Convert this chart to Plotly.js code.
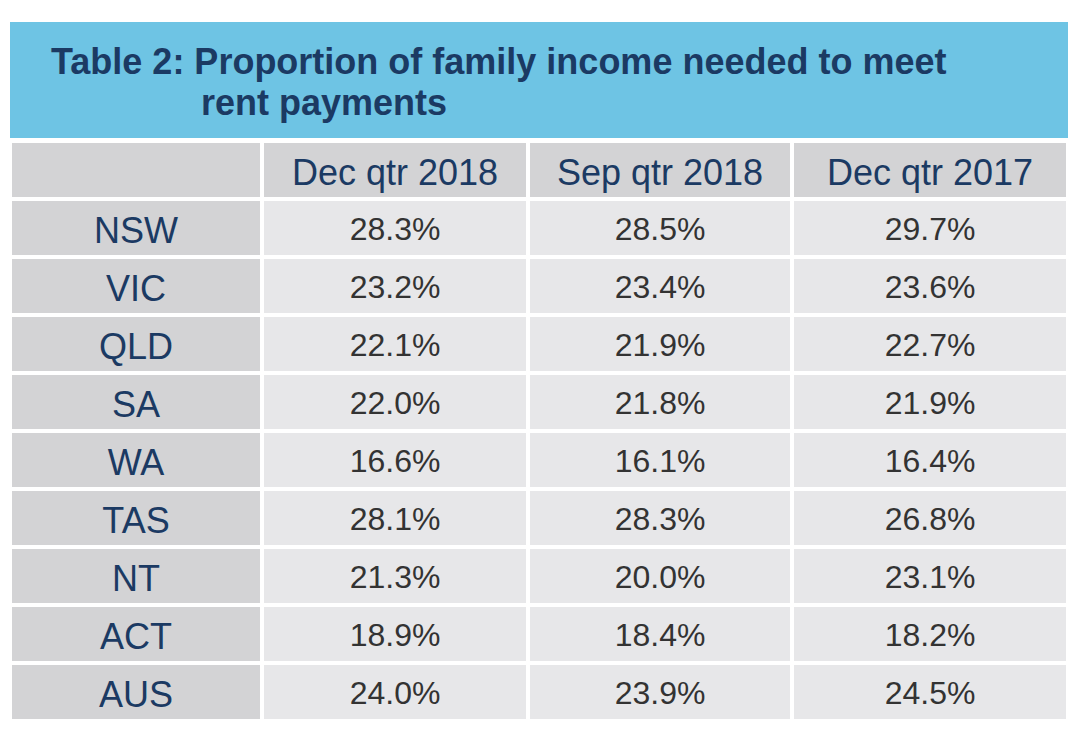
<!DOCTYPE html>
<html>
<head>
<meta charset="utf-8">
<script src="https://cdn.plot.ly/plotly-3.0.1.min.js"></script>
<style>html,body{margin:0;padding:0;background:#fff;}#chart{width:1080px;height:750px;}</style>
</head>
<body>
<div id="chart"></div>
<script>
var titleLine1 = 'Table 2: Proportion of family income needed to meet';
var titleLine2 = 'rent payments';
var headers = ['', 'Dec qtr 2018', 'Sep qtr 2018', 'Dec qtr 2017'];
var regions = ['NSW', 'VIC', 'QLD', 'SA', 'WA', 'TAS', 'NT', 'ACT', 'AUS'];
var decQtr2018 = [28.3, 23.2, 22.1, 22.0, 16.6, 28.1, 21.3, 18.9, 24.0];
var sepQtr2018 = [28.5, 23.4, 21.9, 21.8, 16.1, 28.3, 20.0, 18.4, 23.9];
var decQtr2017 = [29.7, 23.6, 22.7, 21.9, 16.4, 26.8, 23.1, 18.2, 24.5];

var W = 1080, H = 750;
var navy = '#1b3a63';
var gray = '#d3d3d5';
var light = '#e7e7e9';
var font = 'Liberation Sans, Arial, sans-serif';
var colW = [252, 266, 264, 276];
var blank = function (arr) { return arr.map(function () { return ''; }); };

// background grid (fills and white rules)
var gridTrace = {
  type: 'table',
  domain: {x: [10 / W, 1068 / W], y: [1 - 726 / H, 1 - 141 / H]},
  columnwidth: colW,
  header: {
    values: blank(headers),
    height: 58,
    fill: {color: gray},
    line: {color: '#ffffff', width: 4},
    font: {family: font, size: 36, color: navy}
  },
  cells: {
    values: [blank(regions), blank(regions), blank(regions), blank(regions)],
    height: 58,
    fill: {color: [gray, light, light, light]},
    line: {color: '#ffffff', width: 4},
    font: {family: font, size: 32, color: '#333333'}
  }
};

// text layer
var textTrace = {
  type: 'table',
  domain: {x: [10 / W, 1068 / W], y: [1 - 735 / H, 1 - 150 / H]},
  columnwidth: colW,
  header: {
    values: headers,
    align: 'center',
    height: 58,
    fill: {color: 'rgba(0,0,0,0)'},
    line: {color: 'rgba(0,0,0,0)', width: 0},
    font: {family: font, size: 36, color: navy}
  },
  cells: {
    values: [regions, decQtr2018, sepQtr2018, decQtr2017],
    format: ['', '.1f', '.1f', '.1f'],
    suffix: ['', '%', '%', '%'],
    align: 'center',
    height: 58,
    fill: {color: 'rgba(0,0,0,0)'},
    line: {color: 'rgba(0,0,0,0)', width: 0},
    font: {family: font, size: [36, 32, 32, 32], color: [navy, '#333333', '#333333', '#333333']}
  }
};

var layout = {
  width: W, height: H,
  margin: {l: 0, r: 0, t: 0, b: 0},
  paper_bgcolor: '#ffffff',
  showlegend: false,
  shapes: [{
    type: 'rect', xref: 'paper', yref: 'paper',
    x0: 10 / W, x1: 1068 / W, y0: 1 - 138 / H, y1: 1 - 22 / H,
    fillcolor: '#6ec4e4', line: {width: 0}, layer: 'below'
  }],
  annotations: [
    {text: titleLine1, xref: 'paper', yref: 'paper', x: 49 / W, y: 1 - 61 / H,
     xanchor: 'left', yanchor: 'middle', showarrow: false,
     font: {family: font, size: 36, color: navy, weight: 'bold'}},
    {text: titleLine2, xref: 'paper', yref: 'paper', x: 199 / W, y: 1 - 103 / H,
     xanchor: 'left', yanchor: 'middle', showarrow: false,
     font: {family: font, size: 36, color: navy, weight: 'bold'}}
  ]
};

Plotly.newPlot('chart', [gridTrace, textTrace], layout, {displayModeBar: false, staticPlot: true});
</script>
</body>
</html>
